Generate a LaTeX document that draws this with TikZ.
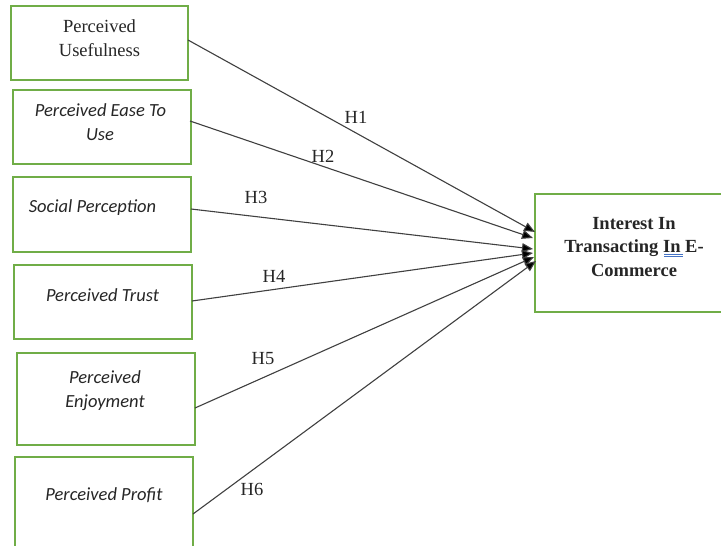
\documentclass[tikz,border=0pt]{standalone}
\usepackage{fontspec}
\setmainfont{Liberation Serif}
\newfontfamily\calib{Carlito}
\usetikzlibrary{arrows.meta}
\definecolor{boxgreen}{HTML}{70AD47}
\definecolor{spellblue}{HTML}{4472C4}
\begin{document}
\begin{tikzpicture}[x=1pt,y=-1pt,
  box/.style={draw=boxgreen,line width=2pt,rectangle,inner sep=0pt},
  lbl/.style={font=\fontsize{18.5}{24}\selectfont,inner sep=0pt,align=center,text=black!85},
  ital/.style={font=\fontsize{18.5}{25}\calib\itshape,inner sep=0pt,align=center,text=black!85},
  hyp/.style={draw=black!75,line width=1.1pt,-{Triangle[length=11pt,width=9pt,fill=black]}},
  hl/.style={font=\fontsize{18.5}{22}\selectfont,inner sep=0pt,text=black!85}]
\useasboundingbox (0,0) rectangle (721,546);
\fill[white] (0,0) rectangle (721,546);
% boxes
\node[box,minimum width=177pt,minimum height=74pt] (b1) at (99.5,43) {};
\node[box,minimum width=178pt,minimum height=74pt] (b2) at (102,127) {};
\node[box,minimum width=178pt,minimum height=75pt] (b3) at (102,214.5) {};
\node[box,minimum width=178pt,minimum height=74pt] (b4) at (103,302) {};
\node[box,minimum width=178pt,minimum height=92pt] (b5) at (106,399) {};
\node[box,minimum width=178pt,minimum height=110pt] (b6) at (104,512) {};
\node[box,minimum width=198pt,minimum height=118pt] (tg) at (634,253) {};
% texts
\node[lbl] (t1a) at (99.5,26) {Perceived};
\node[lbl] (t1b) at (99.5,50) {Usefulness};
\node[ital] (t2a) at (100.5,110) {Perceived Ease To};
\node[ital] (t2b) at (100,135) {Use};
\node[ital] (t3) at (92.5,208) {Social Perception};
\node[ital] (t4) at (102.5,295) {Perceived Trust};
\node[ital] (t5a) at (105,377) {Perceived};
\node[ital] (t5b) at (105,403) {Enjoyment};
\node[ital] (t6) at (104,495) {Perceived Profit};
\node[lbl,font=\fontsize{18.5}{23.5}\selectfont\bfseries] (tt) at (634,247) {Interest In\\Transacting In E-\\Commerce};
% spelling mark under "In"
\coordinate (sp1) at (664,254);
\coordinate (sp2) at (683,254);
\draw[spellblue,line width=0.8pt] (sp1) -- (sp2);
\draw[spellblue,line width=0.8pt] ([yshift=-2.5pt]sp1) -- ([yshift=-2.5pt]sp2);
% arrow end coordinates
\coordinate (s1) at (188,40);
\coordinate (s2) at (190,121);
\coordinate (s3) at (191,209);
\coordinate (s4) at (192,301);
\coordinate (s5) at (195,408);
\coordinate (s6) at (193,514);
\coordinate (e1) at (535,232);
\coordinate (e2) at (533,238);
\coordinate (e3) at (533,249);
\coordinate (e4) at (533,253);
\coordinate (e5) at (534,257);
\coordinate (e6) at (536,261);
\draw[hyp] (s1) -- (e1);
\draw[hyp] (s2) -- (e2);
\draw[hyp] (s3) -- (e3);
\draw[hyp] (s4) -- (e4);
\draw[hyp] (s5) -- (e5);
\draw[hyp] (s6) -- (e6);
% labels
\node[hl] (h1) at (356,117) {H1};
\node[hl] (h2) at (323,156) {H2};
\node[hl] (h3) at (256,197) {H3};
\node[hl] (h4) at (274,276) {H4};
\node[hl] (h5) at (263,359) {H5};
\node[hl] (h6) at (252,489) {H6};
\end{tikzpicture}
\end{document}
